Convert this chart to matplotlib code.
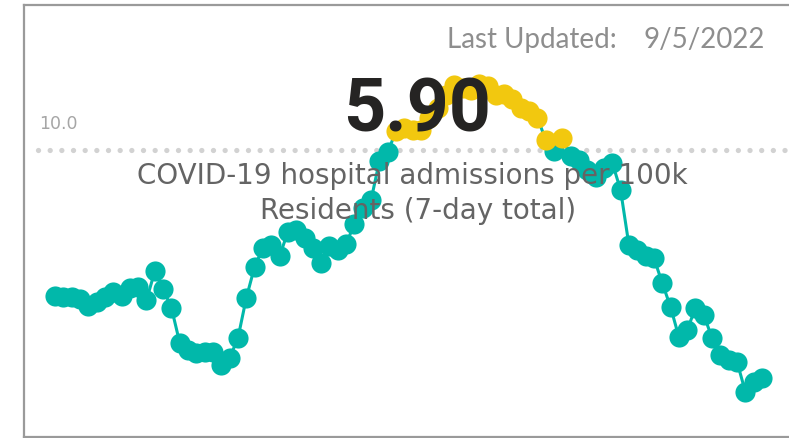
import matplotlib
matplotlib.use("Agg")
import matplotlib.pyplot as plt

# 7-day hospital admissions per 100k, one value per day
admissions = [
    7.37, 7.36, 7.36, 7.32, 7.19, 7.27, 7.36, 7.45, 7.37, 7.52,
    7.54, 7.30, 7.82, 7.50, 7.16, 6.53, 6.40, 6.35, 6.37, 6.37,
    6.13, 6.26, 6.62, 7.34, 7.90, 8.24, 8.29, 8.09, 8.53, 8.56,
    8.42, 8.24, 7.97, 8.27, 8.20, 8.31, 8.67, 8.96, 9.10, 9.80,
    9.96, 10.34, 10.40, 10.36, 10.36, 10.58, 10.76, 10.99, 11.17, 11.12,
    11.08, 11.19, 11.15, 10.99, 11.01, 10.92, 10.76, 10.70, 10.58, 10.18,
    9.98, 10.22, 9.89, 9.82, 9.64, 9.51, 9.68, 9.77, 9.28, 8.29,
    8.20, 8.09, 8.06, 7.61, 7.18, 6.64, 6.76, 7.16, 7.03, 6.62,
    6.31, 6.22, 6.19, 5.65, 5.83, 5.90,
]
threshold = 10.0
latest = admissions[-1]
last_updated = "9/5/2022"
title_lines = ["COVID-19 hospital admissions per 100k", "Residents (7-day total)"]

teal = "#01B8AA"
yellow = "#F2C80F"

days = list(range(len(admissions)))

fig = plt.figure(figsize=(7.89, 4.38), dpi=100)
ax = fig.add_axes([24 / 789, 1 - 437 / 438, 1 - 24 / 789, (437 - 5) / 438])

# frame like the report tile
for side in ["left", "top", "bottom"]:
    ax.spines[side].set_color("#9a9a9a")
    ax.spines[side].set_linewidth(1.6)
ax.spines["right"].set_visible(False)
ax.set_xticks([])
ax.set_yticks([])

# dotted reference line at 10.0
ax.plot([-2.0, 88.5], [threshold, threshold], color="#d2d2d2", linewidth=3.8,
        linestyle=(0, (0.01, 2.2)), dash_capstyle="round", zorder=1)
ax.text(-1.9, threshold + 0.3, "10.0", color="#a6a6a6", fontsize=12.5,
        family="DejaVu Sans Condensed", va="bottom", ha="left")

ax.plot(days, admissions, color=teal, linewidth=2.2, zorder=2)
above = [d for d, v in zip(days, admissions) if v > threshold]
below = [d for d, v in zip(days, admissions) if v <= threshold]
ax.plot(below, [admissions[d] for d in below], "o", color=teal,
        markersize=14.5, markeredgewidth=0, zorder=3)
ax.plot(above, [admissions[d] for d in above], "o", color=yellow,
        markersize=14.5, markeredgewidth=0, zorder=3)

ax.set_xlim(-(55 - 24) / 8.318, 85 + (789 - 762) / 8.318)
ax.set_ylim(10 - 287 / 55.6, 10 + 145 / 55.6)

# texts in figure pixels
def px(x, y):
    return x / 789, 1 - y / 438

fig.text(*px(447, 40), "Last Updated:", color="#8e8e8e", fontsize=20,
         family="Lato", va="center", ha="left")
fig.text(*px(765, 40), last_updated, color="#8e8e8e", fontsize=20,
         family="Lato", va="center", ha="right")
fig.text(*px(417, 112), f"{latest:.2f}", color="#252423", fontsize=53,
         family="Roboto", fontweight="bold", va="center", ha="center", zorder=5)
fig.text(*px(412, 176), title_lines[0], color="#646464", fontsize=20,
         family="DejaVu Sans Condensed", va="center", ha="center", zorder=5)
fig.text(*px(418, 211), title_lines[1], color="#646464", fontsize=20,
         family="DejaVu Sans Condensed", va="center", ha="center", zorder=5)

fig.savefig("out.png", dpi=100)
